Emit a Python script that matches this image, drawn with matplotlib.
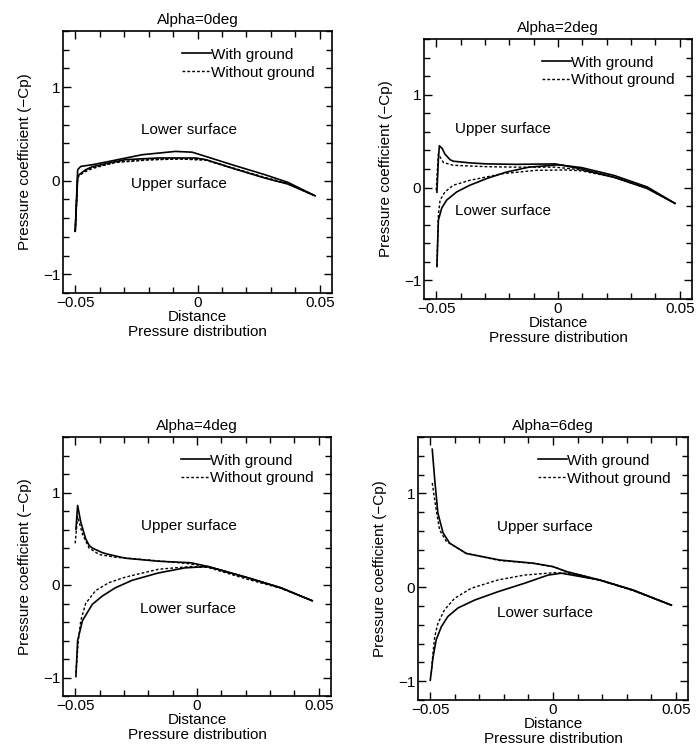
import matplotlib
matplotlib.use("Agg")
import matplotlib.pyplot as plt
from matplotlib.ticker import MultipleLocator

plt.rcParams['font.family'] = ['Liberation Sans', 'DejaVu Sans']
plt.rcParams['font.size'] = 11

# ---- data: x = distance, y = -Cp ----
# Alpha = 0 deg
a0_with_lower_x = [-0.0500, -0.0490, -0.0477, -0.0430, -0.0362, -0.0226, -0.0091, -0.0022, 0.0033, 0.0141, 0.0276, 0.037, 0.048]
a0_with_lower_y = [-0.54, 0.118, 0.153, 0.171, 0.206, 0.278, 0.313, 0.305, 0.26, 0.171, 0.064, -0.018, -0.16]
a0_with_upper_x = [-0.0500, -0.0490, -0.0484, -0.0457, -0.0430, -0.0362, -0.0294, -0.0159, -0.0008, 0.0033, 0.0141, 0.0276, 0.037, 0.048]
a0_with_upper_y = [-0.54, 0.03, 0.064, 0.118, 0.15, 0.19, 0.225, 0.243, 0.243, 0.226, 0.135, 0.028, -0.036, -0.16]
a0_without_lower_x = [-0.0500, -0.0490, -0.0465, -0.0430, -0.0333, -0.0198, -0.0076, 0.0033, 0.0141, 0.0276, 0.037, 0.048]
a0_without_lower_y = [-0.54, 0.04, 0.09, 0.13, 0.2, 0.226, 0.234, 0.224, 0.14, 0.035, -0.03, -0.16]
a0_without_upper_x = [-0.0500, -0.0490, -0.0465, -0.0430, -0.0333, -0.0198, -0.0076, 0.0033, 0.0141, 0.0276, 0.037, 0.048]
a0_without_upper_y = [-0.54, 0.05, 0.1, 0.14, 0.195, 0.222, 0.232, 0.22, 0.135, 0.03, -0.035, -0.16]

# Alpha = 2 deg
a2_with_upper_x = [-0.0497, -0.0491, -0.0487, -0.0475, -0.0464, -0.0443, -0.0430, -0.0362, -0.0294, -0.0172, -0.0011, 0.0097, 0.0231, 0.0366, 0.048]
a2_with_upper_y = [-0.05, 0.3, 0.45, 0.42, 0.36, 0.3, 0.284, 0.266, 0.255, 0.25, 0.255, 0.2, 0.11, -0.01, -0.17]
a2_with_lower_x = [-0.0497, -0.0491, -0.0477, -0.0457, -0.0416, -0.0362, -0.0294, -0.0213, -0.0119, 0.0003, 0.0097, 0.0231, 0.0366, 0.048]
a2_with_lower_y = [-0.85, -0.35, -0.22, -0.135, -0.047, 0.025, 0.096, 0.166, 0.22, 0.245, 0.215, 0.13, 0.007, -0.17]
a2_without_upper_x = [-0.0500, -0.0491, -0.0484, -0.0470, -0.0430, -0.0294, -0.0172, -0.0011, 0.0097, 0.0231, 0.0366, 0.048]
a2_without_upper_y = [-0.03, 0.36, 0.33, 0.27, 0.24, 0.225, 0.22, 0.22, 0.19, 0.11, -0.01, -0.17]
a2_without_lower_x = [-0.0497, -0.0491, -0.0484, -0.0464, -0.0430, -0.0362, -0.0227, -0.0092, 0.0030, 0.0097, 0.0231, 0.0366, 0.048]
a2_without_lower_y = [-0.85, -0.3, -0.135, -0.047, 0.025, 0.078, 0.15, 0.185, 0.19, 0.18, 0.11, 0.0, -0.17]

# Alpha = 4 deg
a4_with_upper_x = [-0.0497, -0.0490, -0.0477, -0.0457, -0.0443, -0.0430, -0.0389, -0.0362, -0.0294, -0.0159, -0.0024, 0.0045, 0.0209, 0.0344, 0.0473]
a4_with_upper_y = [0.6, 0.86, 0.68, 0.5, 0.43, 0.4, 0.35, 0.33, 0.29, 0.257, 0.24, 0.2, 0.078, -0.03, -0.17]
a4_with_lower_x = [-0.0497, -0.0490, -0.0470, -0.0430, -0.0389, -0.0335, -0.0267, -0.0159, -0.0050, 0.0045, 0.0209, 0.0344, 0.0473]
a4_with_lower_y = [-0.99, -0.6, -0.385, -0.21, -0.12, -0.03, 0.05, 0.13, 0.185, 0.2, 0.078, -0.03, -0.17]
a4_without_upper_x = [-0.0500, -0.0490, -0.0470, -0.0443, -0.0402, -0.0335, -0.0198, -0.0049, 0.0005, 0.0073, 0.0209, 0.0344, 0.0473]
a4_without_upper_y = [0.45, 0.74, 0.55, 0.4, 0.33, 0.3, 0.27, 0.235, 0.215, 0.18, 0.078, -0.03, -0.17]
a4_without_lower_x = [-0.0497, -0.0487, -0.0477, -0.0457, -0.0416, -0.0362, -0.0294, -0.0159, -0.0024, 0.0045, 0.0209, 0.0344, 0.0473]
a4_without_lower_y = [-0.95, -0.6, -0.385, -0.2, -0.06, 0.025, 0.085, 0.17, 0.2, 0.19, 0.06, -0.035, -0.17]

# Alpha = 6 deg
a6_with_upper_x = [-0.0492, -0.0482, -0.0469, -0.0448, -0.0421, -0.0353, -0.0217, -0.0082, 0.0, 0.0054, 0.019, 0.0326, 0.0482]
a6_with_upper_y = [1.47, 1.15, 0.79, 0.58, 0.47, 0.36, 0.29, 0.257, 0.22, 0.168, 0.078, -0.03, -0.19]
a6_with_lower_x = [-0.0500, -0.0489, -0.0476, -0.0455, -0.0428, -0.0387, -0.0319, -0.0224, -0.0116, -0.0020, 0.0034, 0.019, 0.0326, 0.0482]
a6_with_lower_y = [-0.99, -0.75, -0.56, -0.42, -0.31, -0.22, -0.136, -0.047, 0.043, 0.13, 0.15, 0.078, -0.03, -0.19]
a6_without_upper_x = [-0.0492, -0.0478, -0.0462, -0.0435, -0.0353, -0.0217, -0.0082, 0.0, 0.0054, 0.019, 0.0326, 0.0482]
a6_without_upper_y = [1.11, 0.86, 0.61, 0.49, 0.36, 0.285, 0.255, 0.22, 0.168, 0.078, -0.03, -0.19]
a6_without_lower_x = [-0.0496, -0.0489, -0.0482, -0.0469, -0.0442, -0.0401, -0.0333, -0.0224, -0.0116, 0.0007, 0.0054, 0.019, 0.0326, 0.0482]
a6_without_lower_y = [-0.92, -0.7, -0.53, -0.385, -0.24, -0.118, -0.01, 0.078, 0.13, 0.156, 0.15, 0.075, -0.035, -0.19]

titles = ['Alpha=0deg', 'Alpha=2deg', 'Alpha=4deg', 'Alpha=6deg']

panels = [
    (a0_with_lower_x, a0_with_lower_y, a0_with_upper_x, a0_with_upper_y,
     a0_without_lower_x, a0_without_lower_y, a0_without_upper_x, a0_without_upper_y),
    (a2_with_lower_x, a2_with_lower_y, a2_with_upper_x, a2_with_upper_y,
     a2_without_lower_x, a2_without_lower_y, a2_without_upper_x, a2_without_upper_y),
    (a4_with_lower_x, a4_with_lower_y, a4_with_upper_x, a4_with_upper_y,
     a4_without_lower_x, a4_without_lower_y, a4_without_upper_x, a4_without_upper_y),
    (a6_with_lower_x, a6_with_lower_y, a6_with_upper_x, a6_with_upper_y,
     a6_without_lower_x, a6_without_lower_y, a6_without_upper_x, a6_without_upper_y),
]

# surface labels (text, x, y) per panel
surface_labels = [
    [('Lower surface', -0.0033, 0.545), ('Upper surface', -0.0076, -0.04)],
    [('Upper surface', -0.0226, 0.63), ('Lower surface', -0.0226, -0.25)],
    [('Upper surface', -0.0035, 0.64), ('Lower surface', -0.0035, -0.26)],
    [('Upper surface', -0.0034, 0.64), ('Lower surface', -0.0034, -0.27)],
]

W, H = 698, 755
# axes boxes in pixels: left, top, right, bottom
boxes = [(63, 31, 332, 293), (424, 39, 692, 299), (63, 437, 331, 696), (418, 437, 688, 700)]

fig = plt.figure(figsize=(W / 100, H / 100), dpi=100)

for i in range(4):
    l, t, r, b = boxes[i]
    ax = fig.add_axes([l / W, 1 - b / H, (r - l) / W, (b - t) / H])
    wlx, wly, wux, wuy, olx, oly, oux, ouy = panels[i]
    ax.plot(wlx, wly, color='black', lw=1.2, label='With ground')
    ax.plot(wux, wuy, color='black', lw=1.2)
    ax.plot(olx, oly, color='black', lw=1.0, dashes=(2, 1.5), label='Without ground')
    ax.plot(oux, ouy, color='black', lw=1.0, dashes=(2, 1.5))
    for txt, tx, ty in surface_labels[i]:
        ax.text(tx, ty, txt, ha='center', va='center', fontsize=11)
    ax.set_xlim(-0.055, 0.055)
    ax.set_ylim(-1.2, 1.6)
    ax.xaxis.set_minor_locator(MultipleLocator(0.01))
    ax.yaxis.set_minor_locator(MultipleLocator(0.2))
    ax.set_xticks([-0.05, 0, 0.05])
    ax.set_xticklabels(['\u22120.05', '0', '0.05'])
    ax.set_yticks([-1, 0, 1])
    ax.set_yticklabels(['\u22121', '0', '1'])
    ax.tick_params(which='both', direction='in', top=True, right=True, width=1.0)
    ax.tick_params(which='major', length=6, pad=2, labelsize=11)
    ax.tick_params(which='minor', length=4)
    for s in ax.spines.values():
        s.set_linewidth(1.2)
    ax.set_title(titles[i], fontsize=11, pad=5)
    ax.set_xlabel('Distance\nPressure distribution', fontsize=11, labelpad=0, linespacing=1.15)
    ax.set_ylabel('Pressure coefficient (\u2212Cp)', fontsize=11, labelpad=8)
    ax.legend(loc='upper right', bbox_to_anchor=(0.934, 0.936), frameon=False,
              handlelength=1.9, handletextpad=0.0, labelspacing=0.25,
              borderaxespad=0.0, borderpad=0.0, fontsize=11)

fig.savefig('out.png', dpi=100)
